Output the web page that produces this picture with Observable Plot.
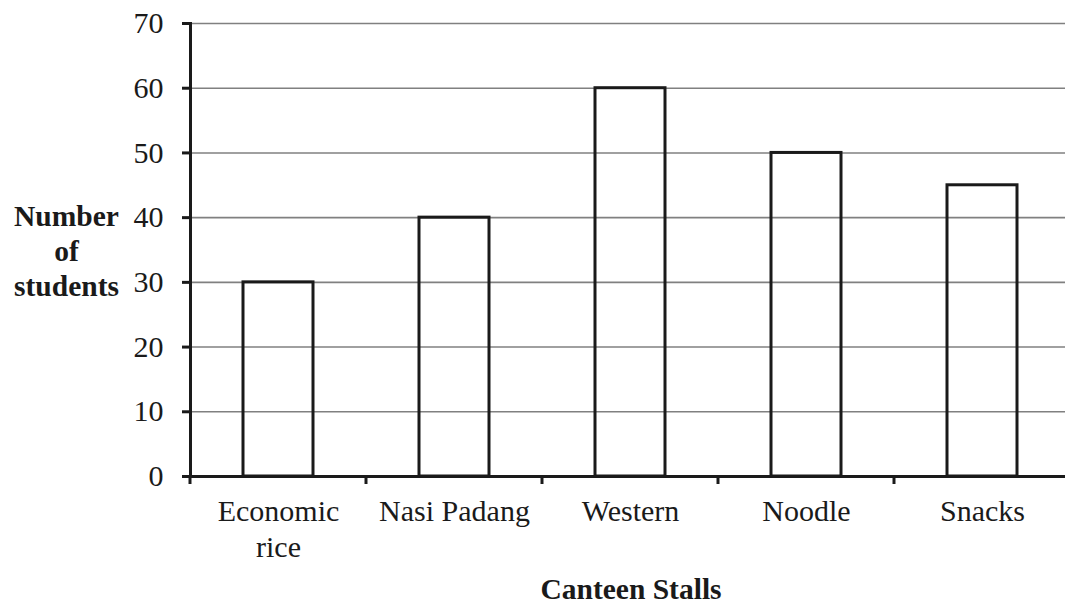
<!DOCTYPE html>
<html>
<head>
<meta charset="utf-8">
<script src="https://cdn.jsdelivr.net/npm/d3@7"></script>
<script src="https://cdn.jsdelivr.net/npm/@observablehq/plot@0.6"></script>
<style>
  html, body { margin: 0; padding: 0; background: #fff; overflow: hidden; }
  #chart svg { display: block; }
  #chart svg, #chart svg text { font-family: "Liberation Serif", "Times New Roman", serif !important; }
</style>
</head>
<body>
<div id="chart"></div>
<script>
const stalls = ["Economic rice", "Nasi Padang", "Western", "Noodle", "Snacks"];
const stallLabels = ["Economic\nrice", "Nasi Padang", "Western", "Noodle", "Snacks"];
const students = [30, 40, 60, 50, 45];
const yTicks = [0, 10, 20, 30, 40, 50, 60, 70];
const gridTicks = [10, 20, 30, 40, 50, 60, 70];
const yTitle = "Number\nof\nstudents";
const xTitle = "Canteen Stalls";

const data = stalls.map((s, i) => ({stall: s, value: students[i]}));
const labelOf = new Map(stalls.map((s, i) => [s, stallLabels[i]]));
const FONT = "Liberation Serif, Times New Roman, serif";

function boundaryTicks(index, scales) {
  const x = scales.x, y = scales.y;
  const step = typeof x.step === "function" ? x.step() : (x(stalls[1]) - x(stalls[0]));
  const bw = typeof x.bandwidth === "function" ? x.bandwidth() : (scales.scales?.x?.bandwidth ?? 0);
  const y0 = y(0);
  const g = d3.create("svg:g").attr("stroke", "#1a1a1a").attr("stroke-width", 3);
  const bounds = stalls.map(c => x(c) - (step - bw) / 2);
  bounds.push(x(stalls[stalls.length - 1]) + bw + (step - bw) / 2);
  for (const b of bounds) {
    g.append("line").attr("x1", b).attr("x2", b).attr("y1", y0).attr("y2", y0 + 8);
  }
  return g.node();
}

const chart = Plot.plot({
  width: 1065,
  height: 609,
  marginLeft: 190,
  marginRight: 0,
  marginTop: 23,
  marginBottom: 133,
  style: {fontFamily: FONT, background: "#fff", color: "#1a1a1a"},
  x: {domain: stalls, range: [190, 1070], paddingInner: 0.6, paddingOuter: 0.3},
  y: {domain: [0, 70]},
  marks: [
    Plot.gridY(gridTicks, {stroke: "#808080", strokeOpacity: 1, strokeWidth: 1.6}),
    Plot.barY(data, {x: "stall", y: "value", fill: "none", stroke: "#1a1a1a", strokeWidth: 3}),
    Plot.ruleY([0], {stroke: "#1a1a1a", strokeWidth: 3}),
    Plot.frame({anchor: "left", stroke: "#1a1a1a", strokeWidth: 3}),
    Plot.axisY(yTicks, {tickSize: 8, tickPadding: 19, fontSize: 30, fontFamily: FONT, strokeWidth: 3, label: null, fill: "#1a1a1a"}),
    Plot.axisX({tickSize: 0, tickPadding: 20, fontSize: 30, fontFamily: FONT, lineHeight: 1.17, label: null,
      tickFormat: d => labelOf.get(d), fill: "#1a1a1a"}),
    boundaryTicks,
    Plot.text([yTitle], {text: d => d, frameAnchor: "left", dx: -124, fontSize: 29.5, fontFamily: FONT,
      fontWeight: "bold", lineHeight: 1.19, textAnchor: "middle", fill: "#1a1a1a"}),
    Plot.text([xTitle], {text: d => d, frameAnchor: "bottom", dy: 122, dx: 3, fontSize: 29.5, fontFamily: FONT,
      fontWeight: "bold", textAnchor: "middle", fill: "#1a1a1a"})
  ]
});
document.getElementById("chart").appendChild(chart);
</script>
</body>
</html>
